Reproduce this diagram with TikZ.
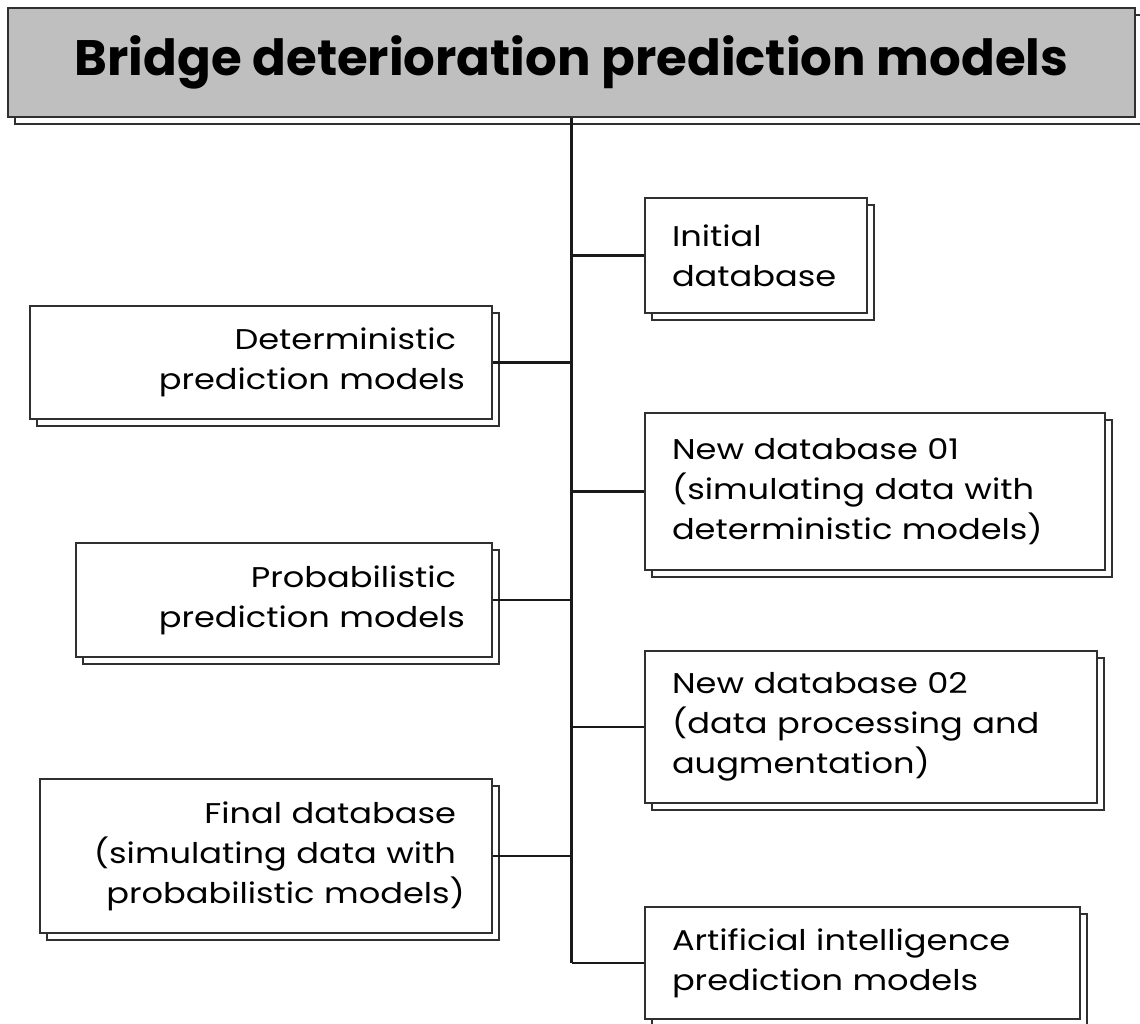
\documentclass[tikz,border=0pt]{standalone}
\usepackage{fontspec}
\setmainfont{Poppins}[FakeStretch=1.18]
\newfontfamily\bannerfont{Poppins}
\usetikzlibrary{shadows}
\definecolor{edgegray}{HTML}{303030}
\definecolor{titlefill}{HTML}{BFBFBF}
% trailing gap kept at the end of a right-aligned line
\newcommand\trail{\rule{9pt}{0pt}}
\begin{document}
\begin{tikzpicture}[x=1pt,y=-1pt,
  framed/.style={rectangle, draw=edgegray, line width=2.8pt, inner ysep=0pt,
    general shadow={fill=white, draw=edgegray, line width=2.8pt,
      shadow xshift=7pt, shadow yshift=-7pt}},
  titlebox/.style={framed, fill=titlefill, inner xsep=0pt,
    font=\bannerfont\bfseries\fontsize{49.8}{56}\selectfont},
  rightbox/.style={framed, fill=white, inner xsep=27pt, align=left,
    font=\fontsize{28.5}{40}\selectfont},
  leftbox/.style={framed, fill=white, inner xsep=27pt, align=right,
    font=\fontsize{28.5}{40}\selectfont},
  link/.style={draw=black!90, line width=2.8pt}]
\useasboundingbox (0,0) rectangle (1140,1024);

% title banner
\node[titlebox, minimum width=1127pt, minimum height=109pt] (title) at (571.5,62.5)
  {Bridge deterioration prediction models};

% branches on the right of the spine
\node[rightbox, text width=168pt, minimum height=115pt] (init) at (756,255.5)
  {Initial\\database};
\node[rightbox, text width=406pt, minimum height=157pt] (nd1) at (875,491.5)
  {New database 01\\(simulating data with\\deterministic models)};
\node[rightbox, text width=398pt, minimum height=152pt] (nd2) at (871,727)
  {New database 02\\(data processing and\\augmentation)};
\node[rightbox, text width=381pt, minimum height=112pt] (ai) at (862.5,963)
  {Artificial intelligence\\prediction models};

% branches on the left of the spine
\node[leftbox, text width=408pt, minimum height=113pt] (det) at (261,362.5)
  {Deterministic\trail\\prediction models};
\node[leftbox, text width=362pt, minimum height=114pt] (prob) at (284,600)
  {Probabilistic\trail\\prediction models};
\node[leftbox, text width=398pt, minimum height=154pt] (fin) at (266,856)
  {Final database\trail\\(simulating data with\trail\\probabilistic models)};

% spine and connectors
\draw[link] (title.south) -- (title.south |- ai.west);
\foreach \n in {init, nd1, nd2, ai}
  \draw[link] (\n.west -| title.south) -- (\n.west);
\foreach \n in {det, prob, fin}
  \draw[link] (\n.east) -- (\n.east -| title.south);
\end{tikzpicture}
\end{document}
